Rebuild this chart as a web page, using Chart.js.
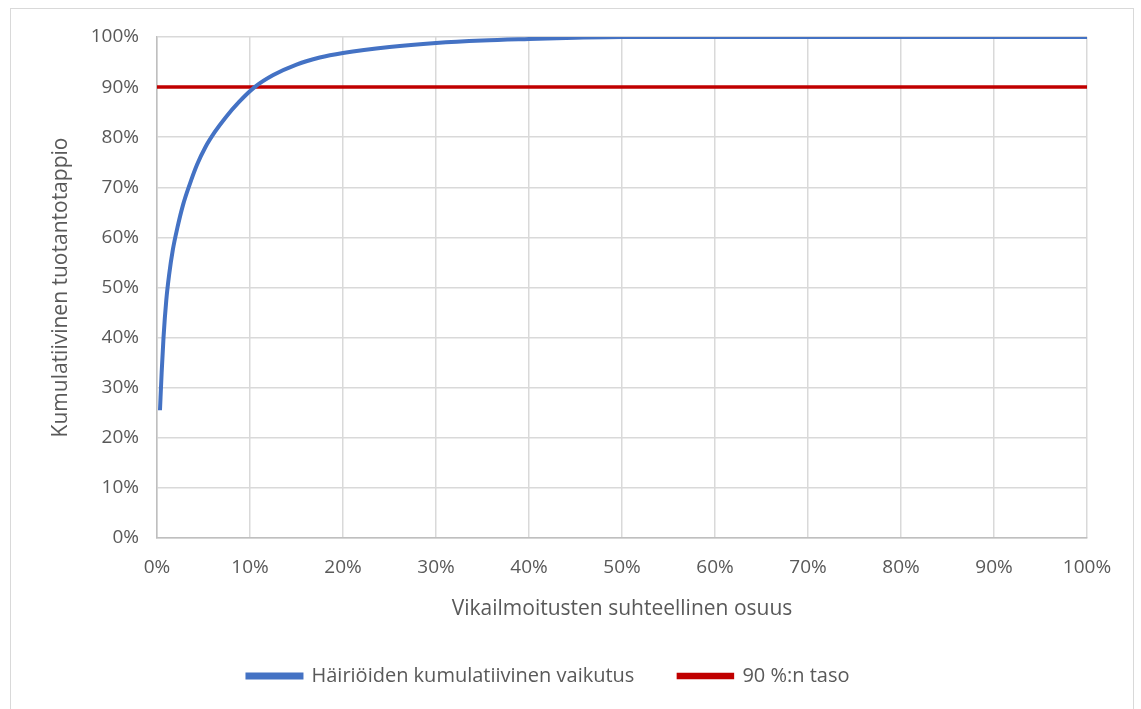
<!DOCTYPE html>
<html>
<head>
<meta charset="utf-8">
<script src="https://cdn.jsdelivr.net/npm/chart.js@4/dist/chart.umd.min.js"></script>
<style>
  body { margin: 0; background: #fff; }
  #wrap { position: relative; width: 1141px; height: 709px; }
  #frame { position: absolute; left: 10px; top: 8px; width: 1122px; height: 712px; border: 1px solid #d9d9d9; pointer-events: none; }
</style>
</head>
<body>
<div id="wrap">
  <canvas id="chart" width="1141" height="709"></canvas>
  <div id="frame"></div>
</div>
<script>
// vikailmoitusten suhteellinen osuus (x) ja kumulatiivinen tuotantotappio (y)
const xShare = [0.0032, 0.005, 0.007, 0.010, 0.013, 0.017, 0.022, 0.028, 0.035, 0.043, 0.052, 0.062, 0.074, 0.088, 0.105, 0.125, 0.15, 0.175, 0.20, 0.25, 0.30, 0.35, 0.40, 0.45, 0.50, 0.60, 0.70, 0.80, 0.90, 1.00];
const yCumulative = [0.255, 0.33, 0.40, 0.475, 0.525, 0.575, 0.62, 0.665, 0.705, 0.745, 0.78, 0.81, 0.84, 0.87, 0.90, 0.924, 0.945, 0.959, 0.968, 0.980, 0.988, 0.993, 0.996, 0.9985, 1.0, 1.0, 1.0, 1.0, 1.0, 1.0];
const levelX = [0, 1];
const levelY = [0.9, 0.9];

const seriesNames = ['Häiriöiden kumulatiivinen vaikutus', '90 %:n taso'];
const xTitle = 'Vikailmoitusten suhteellinen osuus';
const yTitle = 'Kumulatiivinen tuotantotappio';

const font = '"Open Sans", "Liberation Sans", sans-serif';
const textColor = '#595959';
const pct = v => Math.round(v * 100) + '%';

new Chart(document.getElementById('chart').getContext('2d'), {
  type: 'scatter',
  data: {
    datasets: [
      {
        label: seriesNames[0],
        data: xShare.map((x, i) => ({ x: x, y: yCumulative[i] })),
        showLine: true,
        borderColor: '#4472C4',
        backgroundColor: '#4472C4',
        borderWidth: 4,
        pointRadius: 0,
        cubicInterpolationMode: 'monotone'
      },
      {
        label: seriesNames[1],
        data: levelX.map((x, i) => ({ x: x, y: levelY[i] })),
        showLine: true,
        borderColor: '#C00000',
        backgroundColor: '#C00000',
        borderWidth: 3.5,
        pointRadius: 0
      }
    ]
  },
  options: {
    responsive: false,
    animation: false,
    layout: { padding: { left: 10, right: 54, top: 37, bottom: 13 } },
    scales: {
      x: {
        type: 'linear',
        min: 0,
        max: 1,
        ticks: { stepSize: 0.1, callback: pct, color: textColor, font: { family: font, size: 19 }, padding: 18 },
        grid: { color: '#d9d9d9', lineWidth: 1.5, drawTicks: false },
        border: { color: '#bfbfbf', width: 1.5 },
        title: { display: true, text: xTitle, color: textColor, font: { family: font, size: 21 }, padding: { top: 0, bottom: 0 } }
      },
      y: {
        min: 0,
        max: 1,
        ticks: { stepSize: 0.1, callback: pct, color: textColor, font: { family: font, size: 19 }, padding: 18 },
        grid: { color: '#d9d9d9', lineWidth: 1.5, drawTicks: false },
        border: { color: '#bfbfbf', width: 1.5 },
        title: { display: true, text: yTitle, color: textColor, font: { family: font, size: 21 }, padding: { top: 38, bottom: 8 } },
        afterFit: s => { s.width = 147; }
      }
    },
    plugins: {
      legend: {
        position: 'bottom',
        labels: { color: textColor, font: { family: font, size: 20 }, boxWidth: 54, boxHeight: 3, padding: 44 }
      },
      tooltip: { enabled: false }
    }
  }
});
</script>
</body>
</html>
